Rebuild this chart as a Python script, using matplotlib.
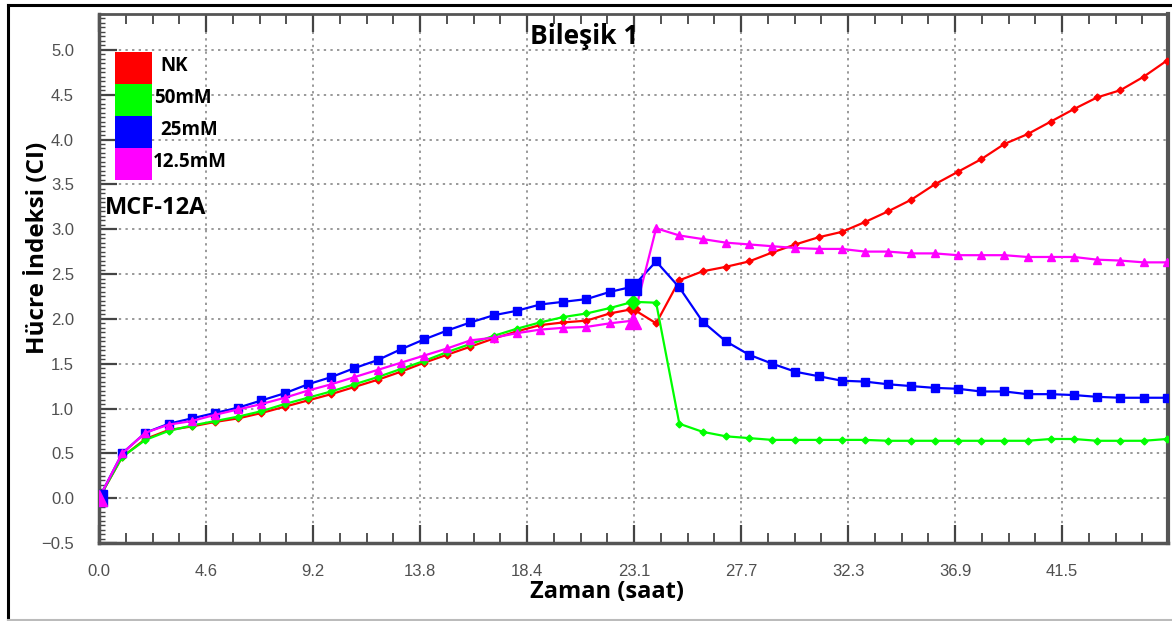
import numpy as np
import matplotlib
matplotlib.use("Agg")
import matplotlib.pyplot as plt
from matplotlib import font_manager
from matplotlib.lines import Line2D
from matplotlib.patches import Rectangle
from matplotlib.ticker import FixedLocator, MultipleLocator

# zaman (saat) ve hücre indeksi ölçümleri
saat = list(range(0, 47))
nk = [0.00, 0.46, 0.66, 0.76, 0.80, 0.85, 0.89, 0.95, 1.02, 1.09,
      1.16, 1.24, 1.32, 1.41, 1.51, 1.60, 1.69, 1.78, 1.86, 1.93,
      1.96, 1.98, 2.06, 2.11, 1.95, 2.43, 2.53, 2.58, 2.64, 2.74,
      2.83, 2.91, 2.97, 3.08, 3.20, 3.33, 3.50, 3.64, 3.78, 3.95,
      4.06, 4.20, 4.34, 4.47, 4.55, 4.70, 4.88]
mM50 = [0.00, 0.46, 0.65, 0.75, 0.81, 0.86, 0.91, 0.97, 1.05, 1.12,
        1.19, 1.27, 1.35, 1.44, 1.53, 1.63, 1.72, 1.81, 1.89, 1.96,
        2.02, 2.06, 2.12, 2.19, 2.18, 0.83, 0.74, 0.69, 0.67, 0.65,
        0.65, 0.65, 0.65, 0.65, 0.64, 0.64, 0.64, 0.64, 0.64, 0.64,
        0.64, 0.66, 0.66, 0.64, 0.64, 0.64, 0.66]
mM25 = [0.00, 0.50, 0.73, 0.83, 0.89, 0.95, 1.01, 1.09, 1.17, 1.27,
        1.35, 1.45, 1.54, 1.66, 1.77, 1.87, 1.96, 2.04, 2.09, 2.16,
        2.19, 2.22, 2.30, 2.36, 2.64, 2.35, 1.97, 1.75, 1.60, 1.50,
        1.41, 1.36, 1.31, 1.30, 1.27, 1.25, 1.23, 1.22, 1.19, 1.19,
        1.16, 1.16, 1.15, 1.13, 1.12, 1.12, 1.12]
mM12_5 = [0.00, 0.50, 0.73, 0.82, 0.86, 0.93, 0.99, 1.05, 1.12, 1.20,
          1.27, 1.35, 1.43, 1.51, 1.59, 1.67, 1.76, 1.79, 1.84, 1.88,
          1.90, 1.91, 1.95, 1.98, 3.01, 2.93, 2.89, 2.85, 2.83, 2.81,
          2.79, 2.78, 2.78, 2.75, 2.75, 2.73, 2.73, 2.71, 2.71, 2.71,
          2.69, 2.69, 2.69, 2.66, 2.65, 2.63, 2.63]
ozel_noktalar = [0, 23]   # normalizasyon ve madde ekleme anı

etiketler = ["NK", "50mM", "25mM", "12.5mM"]
renkler = ["#ff0000", "#00ff00", "#0000ff", "#ff00ff"]
isaretler = ["D", "D", "s", "^"]
boyutlar = [3.5, 3.5, 6, 6]
x_etiketleri = ["0.0", "4.6", "9.2", "13.8", "18.4", "23.1", "27.7", "32.3", "36.9", "41.5"]

fontlar = {f.name for f in font_manager.fontManager.ttflist}
kalin = "Open Sans" if "Open Sans" in fontlar else "DejaVu Sans"
dar = "Liberation Sans Narrow" if "Liberation Sans Narrow" in fontlar else "Liberation Sans"

W, H = 1172, 621
fig = plt.figure(figsize=(W / 100, H / 100), dpi=100)
ax = fig.add_axes([99 / W, 1 - 543 / H, (1168 - 99) / W, (543 - 14) / H])

seriler = [nk, mM50, mM25, mM12_5]
for y, renk, isaret, boy in zip(seriler, renkler, isaretler, boyutlar):
    ax.plot(saat, y, color=renk, lw=1.6, marker=isaret, ms=boy,
            markeredgecolor=renk, zorder=3)
    ax.plot([saat[i] for i in ozel_noktalar], [y[i] for i in ozel_noktalar],
            ls="none", marker=isaret, ms=boy * 1.9, color=renk, zorder=4)

ax.set_xlim(0, 46.05)
ax.set_ylim(-0.5, 5.4)
ax.xaxis.set_major_locator(FixedLocator(np.arange(10) * 4.61))
ax.xaxis.set_minor_locator(MultipleLocator(4.61 / 4))
ax.set_xticklabels(x_etiketleri)
ax.yaxis.set_major_locator(MultipleLocator(0.5))
ax.yaxis.set_minor_locator(MultipleLocator(0.05))

ax.tick_params(axis="both", which="both", direction="in", colors="#444444",
               top=True, right=False)
ax.tick_params(axis="x", which="major", length=13, width=1.6, pad=15,
               labelsize=12, labelcolor="#505050")
ax.tick_params(axis="x", which="minor", length=7, width=1.3)
ax.tick_params(axis="y", which="major", length=13, width=1.6, pad=18,
               labelsize=12, labelcolor="#505050")
ax.tick_params(axis="y", which="minor", length=4, width=1.0)
for lab in ax.get_xticklabels() + ax.get_yticklabels():
    lab.set_family(dar)

for kenar, kal in [("left", 2.5), ("bottom", 2.5), ("top", 2.0), ("right", 3.0)]:
    ax.spines[kenar].set_linewidth(kal)
    ax.spines[kenar].set_color("#555555")

ax.grid(True, which="major", ls=(0, (1.2, 2.2)), lw=1.4, color="#999999")
ax.set_axisbelow(True)

# renkli kutulardan oluşan gösterge
x0 = (115 - 99) / (1168 - 99)
kw = 37 / (1168 - 99)
kh = 32 / (543 - 14)
ust = 1 - (52 - 14) / (543 - 14)
yazi_x = [160, 154, 160, 153]
for i, (etiket, renk) in enumerate(zip(etiketler, renkler)):
    ax.add_patch(Rectangle((x0, ust - (i + 1) * kh), kw, kh, transform=ax.transAxes,
                           facecolor=renk, edgecolor="none", zorder=5))
    ax.text((yazi_x[i] - 99) / (1168 - 99), ust - (i + 0.5) * kh + 0.003, etiket,
            transform=ax.transAxes, ha="left", va="center", fontsize=13.5,
            fontweight="bold", family=kalin, zorder=6)

ax.text((105 - 99) / (1168 - 99), 1 - (208 - 14) / (543 - 14), "MCF-12A",
        transform=ax.transAxes, ha="left", va="center", fontsize=17,
        fontweight="bold", family=kalin)

fig.text(584 / W, 1 - 37 / H, "Bileşik 1", ha="center", va="center",
         fontsize=19, fontweight="bold", family=kalin)
fig.text(607 / W, 1 - 592 / H, "Zaman (saat)", ha="center", va="center",
         fontsize=17, fontweight="bold", family=kalin)
fig.text(38 / W, 1 - 248 / H, "Hücre İndeksi (CI)", ha="center", va="center",
         rotation=90, fontsize=17.5, fontweight="bold", family=kalin)

# dış çerçeve
fig.add_artist(Line2D([8 / W, 1], [1 - 5 / H, 1 - 5 / H], color="black", lw=2.2))
fig.add_artist(Line2D([8 / W, 8 / W], [0, 1 - 5 / H], color="black", lw=2.2))
fig.add_artist(Line2D([8 / W, 1], [1.5 / H, 1.5 / H], color="#bbbbbb", lw=1.5))

fig.savefig("out.png", dpi=100)
